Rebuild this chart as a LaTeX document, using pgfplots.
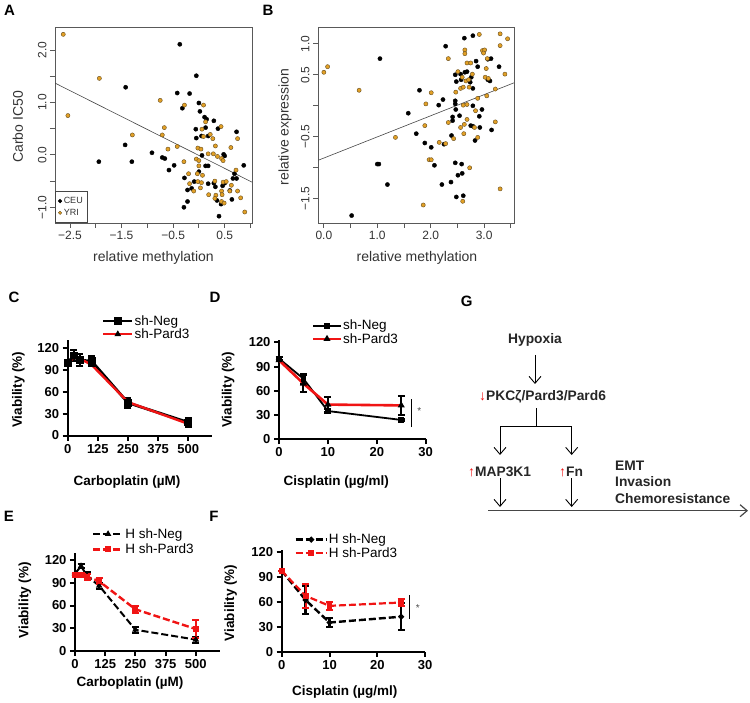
\documentclass[border=0pt]{standalone}
\usepackage{fontspec}
\setmainfont{Liberation Sans}
\usepackage{pgfplots}
\pgfplotsset{compat=1.18}
\usetikzlibrary{arrows.meta}

\definecolor{yri}{RGB}{226,160,38}
\definecolor{yriedge}{RGB}{100,75,30}
\definecolor{rgray}{RGB}{70,70,70}
\definecolor{pred}{RGB}{240,20,20}

\pgfplotsset{
  rstyle/.style={
    scale only axis, axis line style={draw=black!65, line width=0.9pt},
    tick align=outside, major tick length=5pt, xtick pos=bottom, ytick pos=left,
    tick style={draw=black!65, line width=0.8pt},
    ticklabel style={font=\fontsize{12}{14}\selectfont, text=black!80},
    yticklabel style={rotate=90, anchor=south},
    label style={font=\fontsize{14}{16}\selectfont, text=black!80, anchor=center},
  },
  ceu/.style={only marks, mark=*, mark size=2.1pt, mark options={fill=black, draw=black}},
  yri/.style={only marks, mark=*, mark size=2.1pt, mark options={fill=yri, draw=yriedge, line width=0.4pt}},
  prism/.style={
    scale only axis, axis lines=left, axis line style={-, line width=2pt},
    tick align=outside, major tick length=5pt, tick style={line width=2pt, black},
    ticklabel style={font=\fontsize{13}{15}\selectfont\bfseries},
    label style={font=\fontsize{13.5}{16}\selectfont\bfseries, anchor=center},
    clip=false, ymin=0,
    legend style={draw=none, fill=none, inner sep=0pt, anchor=west,
      font=\fontsize{13.5}{15}\selectfont, row sep=0pt, nodes={inner sep=1pt}},
    legend cell align=left,
  },
  ebar/.style={error bars/.cd, y dir=both, y explicit,
    error bar style={line width=2pt}, error mark options={rotate=90, mark size=3.5pt, line width=2pt}},
}
\tikzset{garrow/.style={-{Straight Barb[length=7pt,width=12pt]}, line width=0.9pt}}

\begin{document}
\begin{tikzpicture}
\useasboundingbox (0,0) rectangle (750pt,-703pt);

% ---------- A ----------
\begin{axis}[rstyle, at={(55pt,-223pt)}, anchor=south west, width=197pt, height=196pt,
  xmin=-2.79, xmax=1.03, ymin=-1.30, ymax=2.44,
  xtick={-2.5,-2,-1.5,-1,-0.5,0,0.5,1}, xticklabels={−2.5,,−1.5,,−0.5,,0.5,},
  ytick={-1,-0.5,0,0.5,1,1.5,2}, yticklabels={−1.0,,0.0,,1.0,,2.0},
  xlabel={relative methylation}, ylabel={Carbo IC50},
  xlabel style={at={(axis description cs:0.5,-0.179)}},
  ylabel style={at={(axis description cs:-0.188,0.49)}},
  legend style={at={(0,0)}, anchor=south west, draw=rgray, line width=0.7pt,
    font=\fontsize{9}{10}\selectfont, text=black!80,
    inner xsep=3pt, inner ysep=4pt, row sep=0pt},
  legend cell align=left,
  legend image code/.code={\draw[#1, mark size=1.7pt] plot coordinates {(3pt,0pt)};},
]
\addplot[ceu] coordinates {
(-0.37,2.11) (-0.05,1.51) (-1.42,1.29) (-0.42,1.18) (-0.18,1.17) (-0.32,0.89) (0.00,0.99)
(0.02,0.83) (0.11,0.72) (0.15,0.68) (0.29,0.65) (-0.06,0.49) (0.13,0.52) (0.37,0.50)
(-0.05,0.32) (0.05,0.36) (0.18,0.36) (0.73,0.44) (-1.43,0.19) (-0.91,0.04) (-0.71,-0.05)
(-0.66,-0.07) (0.50,-0.02) (0.48,0.01) (0.06,-0.01) (-1.94,-0.13) (-1.30,-0.13) (-0.48,-0.20)
(-0.58,-0.29) (0.87,-0.20) (0.13,-0.21) (0.18,-0.21) (0.00,-0.32) (-0.28,-0.44) (0.69,-0.36)
(0.66,-0.45) (0.73,-0.45) (0.29,-0.54) (-0.09,-0.51) (0.18,-0.55) (0.50,-0.54) (0.46,-0.59)
(-0.22,-0.67) (-0.14,-0.64) (0.32,-0.61) (0.60,-0.68) (0.64,-0.85) (0.35,-0.87) (0.43,-0.94)
(-0.22,-0.89) (-0.29,-1.00) (0.39,-1.17)
};
\addlegendentry{CEU}
\addplot[yri] coordinates {
(-2.63,2.30) (-1.93,1.46) (-0.75,1.04) (-0.28,0.95) (0.09,0.95) (-2.54,0.75) (0.13,0.63)
(-0.67,0.52) (0.06,0.49) (0.43,0.54) (-1.29,0.38) (0.09,0.35) (0.22,0.39) (-0.71,0.38)
(0.27,0.31) (0.75,0.31) (0.32,0.17) (-0.60,0.11) (-0.42,0.16) (-0.02,0.13) (0.04,0.11)
(0.62,0.14) (0.18,0.02) (0.28,0.02) (0.36,-0.03) (0.44,-0.07) (-0.05,-0.08) (0.00,-0.11)
(-0.29,-0.13) (0.47,-0.11) (0.00,-0.21) (0.72,-0.29) (0.07,-0.39) (-0.20,-0.36) (-0.03,-0.36)
(0.31,-0.50) (-0.02,-0.51) (0.05,-0.53) (-0.18,-0.55) (0.47,-0.52) (0.53,-0.51) (0.03,-0.63)
(-0.10,-0.69) (0.19,-0.76) (0.63,-0.58) (0.44,-0.69) (0.60,-0.69) (0.75,-0.69) (0.33,-0.77)
(0.45,-0.76) (0.81,-0.82) (0.31,-0.83) (0.44,-0.89) (0.49,-0.92) (0.89,-1.09)
};
\addlegendentry{YRI}
\addplot[rgray, line width=0.6pt, forget plot] coordinates {(-2.79,1.37) (1.03,-0.52)};
\end{axis}

% ---------- B ----------
\begin{axis}[rstyle, at={(318pt,-223pt)}, anchor=south west, width=196pt, height=196pt,
  xmin=-0.11, xmax=3.56, ymin=-1.89, ymax=1.27,
  xtick={0,0.5,1,1.5,2,2.5,3,3.5}, xticklabels={0.0,,1.0,,2.0,,3.0,},
  ytick={-1.5,-1,-0.5,0,0.5,1}, yticklabels={−1.5,,−0.5,,0.5,1.0},
  xlabel={relative methylation}, ylabel={relative expression},
  xlabel style={at={(axis description cs:0.505,-0.179)}},
  ylabel style={at={(axis description cs:-0.168,0.49)}},
]
\addplot[ceu] coordinates {
(1.05,0.76) (0.52,-1.77) (1.03,-0.94) (1.00,-0.94) (1.19,-1.27) (1.58,-0.12) (1.79,0.25)
(2.15,0.01) (2.23,0.10) (2.28,0.96) (1.73,-0.45) (1.89,-0.60) (2.01,-0.67) (2.07,-0.96)
(2.63,1.09) (2.79,1.13) (2.85,0.72) (3.07,0.75) (3.13,0.76) (2.88,0.63) (3.28,0.63)
(2.46,0.50) (2.56,0.51) (2.64,0.54) (2.68,0.55) (2.57,0.42) (2.48,0.39) (2.74,0.38)
(2.76,0.46) (3.07,0.42) (3.11,0.40) (2.79,0.28) (2.46,0.08) (2.46,0.03) (2.79,0.00)
(2.47,-0.06) (2.96,-0.06) (2.54,-0.16) (2.41,-0.18) (2.41,-0.24) (2.91,-0.17) (2.75,-0.32)
(2.79,-0.33) (2.92,-0.35) (3.14,-0.39) (2.39,-0.48) (2.83,-0.56) (2.25,-0.62) (2.46,-0.92)
(2.58,-0.94) (2.59,-1.09) (2.51,-1.12) (2.38,-1.23) (2.21,-1.27) (2.48,-1.47) (2.61,-1.45)
};
\addplot[yri] coordinates {
(0.00,0.54) (0.07,0.63) (0.66,0.25) (1.34,-0.51) (1.89,-0.32) (1.91,0.03) (2.01,0.21)
(2.16,-0.59) (1.97,-0.87) (2.01,-0.87) (1.86,-1.60) (2.33,0.76) (2.91,1.15) (3.30,1.16)
(3.44,1.08) (3.30,0.97) (2.64,0.90) (2.64,0.84) (2.97,0.89) (3.01,0.90) (2.99,0.85)
(2.68,0.69) (2.75,0.69) (3.06,0.76) (3.04,0.60) (3.39,0.51) (2.51,0.55) (2.59,0.46)
(2.66,0.40) (2.71,0.42) (2.78,0.51) (3.02,0.46) (3.08,0.44) (2.56,0.28) (2.61,0.30)
(2.47,0.22) (2.72,0.30) (3.05,0.16) (2.88,0.12) (3.21,0.27) (2.61,0.01) (2.68,0.02)
(2.84,-0.08) (2.68,-0.22) (2.33,-0.27) (2.56,-0.35) (2.63,-0.30) (2.82,-0.35) (3.21,-0.26)
(2.43,-0.53) (2.62,-0.45) (2.88,-0.51) (2.28,-0.61) (2.73,-1.00) (2.60,-1.54) (3.30,-1.34)
};
\addplot[rgray, line width=0.6pt] coordinates {(-0.11,-0.88) (3.56,0.37)};
\end{axis}

% ---------- C ----------
\begin{axis}[prism, at={(67.7pt,-435.5pt)}, anchor=south west, width=144.7pt, height=95.2pt,
  xmin=0, xmax=600, ymax=131,
  xtick={0,125,250,375,500}, xticklabels={0,125,250,375,500},
  ytick={0,30,60,90,120}, yticklabels={0,30,60,90,120},
  xlabel={Carboplatin (µM)}, ylabel={Viability (\%)},
  xlabel style={at={(axis description cs:0.41,-0.485)}},
  ylabel style={at={(axis description cs:-0.341,0.48)}},
  legend style={at={(axis description cs:0.235,1.134)}},
  legend image code/.code={\draw[mark repeat=2,mark phase=2,#1] plot coordinates {(0pt,0pt) (14.5pt,0pt) (29pt,0pt)};},
]
\addplot[black, line width=2.8pt, mark=square*, mark size=2.5pt, ebar] table[y error index=2] {
0 100 0
25 110 8
50 104 8
100 102 7
250 45 7
500 18 6
};
\addlegendentry{sh-Neg}
\addplot[pred, line width=2.4pt, mark=triangle*, mark size=1.5pt, mark options={black}] table {
0 100
25 107
50 106
100 97
250 46
500 16
};
\addlegendentry{sh-Pard3}
\end{axis}

% ---------- D ----------
\begin{axis}[prism, at={(279pt,-439.3pt)}, anchor=south west, width=146.7pt, height=99.3pt,
  xmin=0, xmax=30, ymax=123,
  xtick={0,10,20,30}, xticklabels={0,10,20,30},
  ytick={0,30,60,90,120}, yticklabels={0,30,60,90,120},
  xlabel={Cisplatin (µg/ml)}, ylabel={Viability (\%)},
  xlabel style={at={(axis description cs:0.39,-0.427)}},
  ylabel style={at={(axis description cs:-0.346,0.5)}},
  legend style={at={(axis description cs:0.223,1.078)}},
  legend image code/.code={\draw[mark repeat=2,mark phase=2,#1] plot coordinates {(0pt,0pt) (13.8pt,0pt) (27.6pt,0pt)};},
]
\addplot[black, line width=1.8pt, mark=square*, mark size=2pt, ebar] table[y error index=2] {
0 100 2
5 75 6
10 35 2
25 24 1
};
\addlegendentry{sh-Neg}
\addplot[pred, line width=2.6pt, mark=triangle*, mark size=1.5pt, mark options={black},
  error bars/.cd, y dir=both, y explicit, error bar style={black, line width=2pt},
  error mark options={black, rotate=90, mark size=3.5pt, line width=2pt}] table[y error index=2] {
0 98 0
5 69 11
10 43 9
25 42 12
};
\addlegendentry{sh-Pard3}
\draw[black, line width=0.8pt] (axis cs:27,15) -- (axis cs:27,50);
\node[font=\fontsize{10}{10}\selectfont, text=black!70] at (axis cs:28.7,35) {*};
\end{axis}

% ---------- E ----------
\begin{axis}[prism, at={(75pt,-651pt)}, anchor=south west, width=145pt, height=97.8pt,
  xmin=0, xmax=600, ymax=129,
  xtick={0,125,250,375,500}, xticklabels={0,125,250,375,500},
  ytick={0,30,60,90,120}, yticklabels={0,30,60,90,120},
  xlabel={Carboplatin (µM)}, ylabel={Viability (\%)},
  xlabel style={at={(axis description cs:0.38,-0.324)}},
  ylabel style={at={(axis description cs:-0.345,0.52)}},
  legend style={at={(axis description cs:0.115,1.118)}, row sep=2pt},
  legend image code/.code={\draw[mark repeat=2,mark phase=2,#1] plot coordinates {(0pt,0pt) (15pt,0pt) (30pt,0pt)};},
]
\addplot[black, line width=2pt, dash pattern=on 7pt off 3pt, mark=triangle*, mark size=1.8pt,
  mark options={solid}, ebar, error bar style={solid, line width=2pt}] table[y error index=2] {
0 102 0
25 112 3
50 99 5
100 86 4
250 28 4
500 15 4
};
\addlegendentry{H sh-Neg}
\addplot[pred, line width=2.4pt, dash pattern=on 7pt off 3pt, mark=square*, mark size=1.8pt,
  mark options={solid}, ebar, error bar style={solid, line width=2pt}] table[y error index=2] {
0 100 0
25 100 3
50 98 4
100 92 4
250 55 5
500 29 12
};
\addlegendentry{H sh-Pard3}
\end{axis}

% ---------- F ----------
\begin{axis}[prism, at={(281.7pt,-651.7pt)}, anchor=south west, width=143.4pt, height=101.7pt,
  xmin=0, xmax=30, ymax=122,
  xtick={0,10,20,30}, xticklabels={0,10,20,30},
  ytick={0,30,60,90,120}, yticklabels={0,30,60,90,120},
  xlabel={Cisplatin (µg/ml)}, ylabel={Viability (\%)},
  xlabel style={at={(axis description cs:0.44,-0.393)}},
  ylabel style={at={(axis description cs:-0.356,0.48)}},
  legend style={at={(axis description cs:0.088,1.037)}},
  legend image code/.code={\draw[mark repeat=2,mark phase=2,#1] plot coordinates {(0pt,0pt) (15.5pt,0pt) (31pt,0pt)};},
]
\addplot[black, line width=2.4pt, dash pattern=on 7pt off 3pt, mark=*, mark size=1.5pt,
  mark options={solid}, ebar, error bar style={solid, line width=2.4pt}] table[y error index=2] {
0 97 0
5 62 17
10 35 5
25 42 16
};
\addlegendentry{H sh-Neg}
\addplot[pred, line width=2.2pt, dash pattern=on 7pt off 3pt, mark=square*, mark size=1.8pt,
  mark options={solid}, ebar, error bar style={solid, line width=2pt}] table[y error index=2] {
0 97 0
5 67 14
10 55 5
25 59 4
};
\addlegendentry{H sh-Pard3}
\draw[black, line width=0.8pt] (axis cs:26.8,39) -- (axis cs:26.8,68);
\node[font=\fontsize{10}{10}\selectfont, text=black!70] at (axis cs:28.5,52.8) {*};
\end{axis}

% ---------- panel letters ----------
\begin{scope}[font=\fontsize{15}{15}\selectfont\bfseries]
\node at (9.5pt,-10pt) {A};
\node at (268pt,-10pt) {B};
\node at (14pt,-297pt) {C};
\node at (215pt,-297pt) {D};
\node at (9pt,-516pt) {E};
\node at (214pt,-516pt) {F};
\node at (466.7pt,-301.7pt) {G};
\end{scope}

% ---------- G ----------
\begin{scope}[font=\fontsize{13.8}{15}\selectfont\bfseries, text=black!85]
\node at (535pt,-340pt) {Hypoxia};
\draw[garrow] (535pt,-355pt) -- (535pt,-384pt);
\node[anchor=west, inner sep=0pt] at (479pt,-397pt) {\textcolor{pred}{↓}PKCζ/Pard3/Pard6};
\draw[line width=0.9pt] (536pt,-408pt) -- (536pt,-426pt);
\draw[line width=0.9pt] (500pt,-426pt) -- (571.7pt,-426pt);
\draw[garrow] (500pt,-426pt) -- (500pt,-455pt);
\draw[garrow] (571.7pt,-426pt) -- (571.7pt,-455pt);
\node[anchor=west, inner sep=0pt] at (468pt,-471.7pt) {\textcolor{pred}{↑}MAP3K1};
\node[anchor=west, inner sep=0pt] at (559pt,-471.7pt) {\textcolor{pred}{↑}Fn};
\node[anchor=west, inner sep=0pt] at (615pt,-465.7pt) {EMT};
\node[anchor=west, inner sep=0pt] at (615pt,-481.7pt) {Invasion};
\node[anchor=west, inner sep=0pt] at (615pt,-498.3pt) {Chemoresistance};
\draw[garrow] (500pt,-478pt) -- (500pt,-507pt);
\draw[garrow] (571.7pt,-478pt) -- (571.7pt,-507pt);
\draw[garrow, rgray, line width=1.2pt] (488pt,-510.7pt) -- (748pt,-510.7pt);
\end{scope}

\end{tikzpicture}
\end{document}
